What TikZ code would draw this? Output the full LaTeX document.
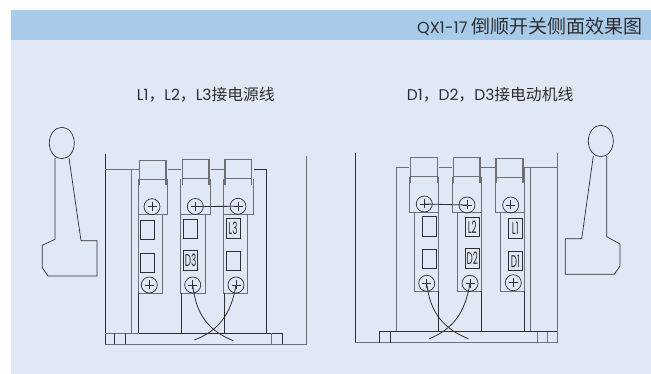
\documentclass[tikz,border=0pt]{standalone}
\usepackage{fontspec}
\usepackage{graphicx}
\setmainfont{Poppins}
\newfontfamily\cjk{Noto Sans CJK SC}
\definecolor{panel}{HTML}{E0E8F5}
\definecolor{band}{HTML}{A9CBEA}
\definecolor{ink}{HTML}{2E2E30}
\definecolor{steel}{HTML}{6E7076}
\tikzset{
  x=1pt,y=-1pt,
  dark/.style={draw=ink,line width=0.8pt},
  grey/.style={draw=steel,line width=1pt},
  thin part/.style={draw=ink,line width=0.7pt},
  capstyle/.style={draw=steel,line width=1.1pt},
  screwnode/.style={circle,draw=ink,line width=0.7pt,minimum size=16pt,inner sep=0pt,fill=none},
  cross/.style={draw=ink,line width=0.6pt},
  labelbox/.style={draw=ink,line width=0.8pt},
  legend/.style={text=ink,font=\fontsize{15.5pt}{17pt}\selectfont,inner sep=0pt,anchor=west},
  tag/.style={text=ink,font=\fontsize{17pt}{18pt}\selectfont,inner sep=0pt},
  curveline/.style={draw=ink,line width=0.8pt}
}
\newcommand{\screwat}[3]{%
  \node[screwnode] (#1) at (#2,#3) {};
  \draw[cross] (#2-4.5,#3) -- (#2+4.5,#3) (#2,#3-4.5) -- (#2,#3+4.5);
}
\newcommand{\tagbox}[6]{%
  \node[labelbox,minimum width=#4 pt-#2 pt,minimum height=#5 pt-#3 pt,inner sep=0pt,anchor=center,
    tag] (#1) at ({(#2+#4)/2},{(#3+#5)/2}) {\scalebox{0.52}[1]{#6}};
}
\newcommand{\caphead}[5]{% L R T B barB
  \draw[capstyle] (#1,#4) -- (#1,#3) -- (#2,#3) -- (#2,#4) -- cycle;
  \draw[capstyle] (#1,#4) -- (#1,#5) (#2,#4) -- (#2,#5);
}
\newcommand{\modbody}[6]{% bodyL bodyR top bodyB lowL lowR
  \draw[grey] (#1,#3) -- (#1,#4) -- (#2,#4) -- (#2,#3);
  \draw[grey] (#5,#4) -- (#5,{#4+79}) -- (#6,{#4+79}) -- (#6,#4);
}
\newcommand{\cj}[1]{{\cjk\fontsize{15.8pt}{17pt}\selectfont #1}}
\begin{document}
\begin{tikzpicture}
\useasboundingbox (0,0) rectangle (651,374);
\fill[panel] (11,40) rectangle (651,374);
\fill[band] (11,10) rectangle (651,40);
\node[text=ink,inner sep=0pt,anchor=east,font=\fontsize{16pt}{18pt}\selectfont] (title) at (643,26.5) {QX1-17 {\cjk\fontsize{19pt}{20pt}\selectfont 倒顺开关侧面效果图}};
\node[legend] (leftnote) at (136.7,95) {L1\cj{，}L2\cj{，}L3\cj{接电源线}};
\node[legend] (rightnote) at (406.7,95) {D1\cj{，}D2\cj{，}D3\cj{接电动机线}};

% left lever
\draw[thin part] (61.8,143) ellipse (12.5 and 15.7);
\draw[thin part] (55,158) -- (55,239.3) -- (42.3,245.3) -- (42.3,267.7) -- (48,276) -- (97,276) -- (97,240.7) -- (81,240.7) -- (69,158);

% left housing
\draw[dark] (105.4,154) -- (105.4,344.3);
\draw[grey] (105.4,344.3) -- (306.7,344.3) -- (306.7,156);
\draw[grey] (105.4,170) -- (138.7,170) (131.7,170) -- (131.7,333.3);
\draw[grey] (105.4,333.3) -- (138.7,333.3);
\draw[dark] (138.7,333.3) -- (283.3,333.3);
\draw[dark] (114.7,333.3) -- (114.7,344.3) (125.3,333.3) -- (125.3,344.3) (282.7,333.3) -- (282.7,344.3);
\draw[grey] (271.7,333.3) -- (271.7,344.3);
\draw[grey] (167.7,169.5) -- (180.7,169.5) (210.7,169.5) -- (223.7,169.5);
\draw[dark] (253.7,169.5) -- (266.5,169.5) -- (266.5,333.3);
\caphead{139.3}{166}{160.7}{179.3}{185}
\caphead{182.3}{209}{159.7}{178.3}{185}
\caphead{225}{251.7}{159.7}{178.3}{185}
\modbody{138.7}{167.7}{179}{214.3}{138.7}{162.3}
\modbody{180.9}{210.7}{179}{214.3}{180.9}{205.2}
\modbody{223.8}{253.7}{179}{214.3}{223.8}{247.7}
\draw[dark] (138.7,293.3) -- (138.7,333.3);
\draw[line width=1pt,draw=ink] (181,293.3) -- (181,333.3) (224,293.3) -- (224,333.3);
\tagbox{la}{140.3}{220}{154.3}{239.3}{}
\tagbox{lb}{140.3}{253.3}{154.3}{272.7}{}
\tagbox{lc}{183.3}{219}{197}{238.3}{}
\tagbox{ld}{183.7}{250.7}{197.3}{270}{D3}
\tagbox{le}{226}{218.3}{240}{238.3}{L3}
\tagbox{lf}{226.3}{251}{240}{270.7}{}
\screwat{ls1}{152}{206.7}
\screwat{ls2}{195.3}{206.5}
\screwat{ls3}{238}{206.3}
\screwat{ls4}{149.3}{285}
\screwat{ls5}{192.7}{285}
\screwat{ls6}{236}{285}
\draw[dark] (ls2.center) -- (ls3.center);
\coordinate (lend1) at (233.3,340.7);
\coordinate (lend2) at (194.3,340);
\draw[curveline] (ls5.center) .. controls (196,315) and (209,331) .. (lend1);
\draw[curveline] (ls6.center) .. controls (231,315) and (218,331) .. (lend2);

% right lever
\draw[thin part] (600.8,141) ellipse (12.5 and 15.7);
\draw[thin part] (606.7,156) -- (606.7,236.7) -- (620,244) -- (620,266) -- (614.3,274.3) -- (565.3,274.3) -- (565.3,238.7) -- (581.7,238.7) -- (593.3,156);

% right housing
\draw[dark] (355.3,153.3) -- (355.3,342.7);
\draw[grey] (355.3,342.7) -- (557,342.7) -- (557,152.7);
\draw[grey] (396,331.7) -- (396,167.3) -- (409.3,167.3) (438.7,167.3) -- (452,167.3) (481.3,167.3) -- (495,167.3) (524,167.3) -- (557,167.3);
\draw[grey] (530.3,167.3) -- (530.3,331.7);
\draw[dark] (379.3,331.7) -- (557,331.7);
\draw[dark] (379.7,331.7) -- (379.7,342.7) (390.7,331.7) -- (390.7,342.7);
\draw[grey] (537.3,331.7) -- (537.3,342.7) (547.7,331.7) -- (547.7,342.7);
\caphead{410.7}{437.3}{157.7}{176.7}{182.7}
\caphead{453.3}{480}{157.7}{176.7}{182.7}
\caphead{496}{523}{158.3}{177.3}{183}
\modbody{409.3}{438.7}{177}{212.3}{414.3}{438.5}
\modbody{452}{481.3}{177}{212.3}{457.3}{481.3}
\modbody{495}{524}{167.3}{212.3}{500.3}{524}
\draw[dark] (438.5,291.3) -- (438.5,331.7) (481.3,291.3) -- (481.3,331.7) (524,291.3) -- (524,331.7);
\tagbox{ra}{422.3}{216.7}{436.7}{236}{}
\tagbox{rb}{422.3}{249}{436.7}{268.7}{}
\tagbox{rc}{465.7}{217.3}{479}{236.7}{L2}
\tagbox{rd}{465.7}{248.3}{479}{268}{D2}
\tagbox{re}{508.3}{218.3}{522.3}{238.3}{L1}
\tagbox{rf}{508.3}{251.3}{522.3}{270.7}{D1}
\screwat{rs1}{424.3}{204}
\screwat{rs2}{467}{205}
\screwat{rs3}{510.7}{205}
\screwat{rs4}{426.7}{283.3}
\screwat{rs5}{470}{283.3}
\screwat{rs6}{513.3}{282.7}
\draw[dark] (rs1.center) -- (rs2.center);
\coordinate (rend1) at (468.3,338.7);
\coordinate (rend2) at (429.3,338.7);
\draw[curveline] (rs4.center) .. controls (430,313) and (444,329) .. (rend1);
\draw[curveline] (rs5.center) .. controls (465,313) and (453,329) .. (rend2);
\end{tikzpicture}
\end{document}
